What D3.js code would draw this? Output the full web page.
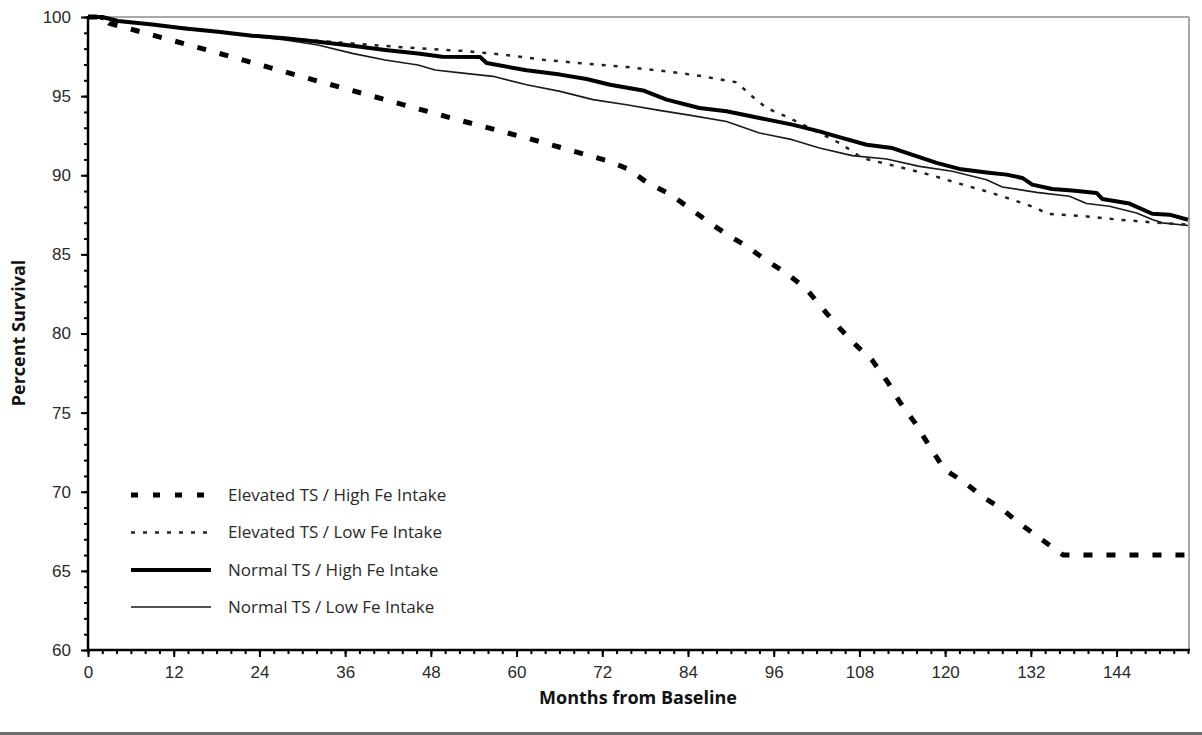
<!DOCTYPE html>
<html>
<head>
<meta charset="utf-8">
<script src="https://cdn.jsdelivr.net/npm/d3@7"></script>
<style>
  body { margin: 0; background: #fff; }
  svg { display: block; font-family: "Open Sans", "DejaVu Sans", sans-serif; }
  .tick text { font-size: 17px; fill: #2a2a2a; }
  .axis path, .axis line { stroke: #000; }
</style>
</head>
<body>
<svg id="chart" width="1202" height="735"></svg>
<script>
// months from baseline / percent survival
const elevHighMonths = [0, 2, 3, 16, 31.8, 51, 63.5, 72.8, 75.6, 78.4, 81.5, 84.1, 86.8, 89.5, 92.3, 95, 97.8, 100.6, 102.8, 104.9, 107.2, 109.8, 112, 113.6, 115.7, 117.5, 119.2, 119.9, 122.7, 125.2, 128, 130.1, 136.5, 154];
const elevHighValues = [100, 100, 99.6, 98.0, 96.0, 93.6, 92.1, 90.9, 90.4, 89.5, 88.8, 87.95, 87.07, 86.25, 85.49, 84.6, 83.8, 82.8, 81.6, 80.5, 79.4, 78.3, 76.9, 75.7, 74.4, 73.1, 71.9, 71.4, 70.6, 69.7, 68.9, 68.1, 66.0, 66.0];

const elevLowMonths = [0, 4.2, 13.6, 23, 32, 37, 41.6, 46.2, 52.8, 58.1, 63.7, 69.8, 75.4, 81, 85.6, 90.8, 93, 95, 98.2, 99.6, 105.2, 108.4, 113.2, 117.8, 122, 125.8, 129.4, 132.8, 134.2, 139.8, 144.4, 149, 154];
const elevLowValues = [100, 99.75, 99.3, 98.85, 98.5, 98.33, 98.17, 98.02, 97.85, 97.62, 97.3, 97.05, 96.84, 96.56, 96.29, 95.87, 94.98, 94.25, 93.62, 93.3, 92.04, 91.09, 90.56, 90.04, 89.47, 88.98, 88.46, 87.93, 87.56, 87.4, 87.19, 87.02, 86.88];

const normHighMonths = [0, 2, 4.2, 9, 13.6, 18.2, 23, 27.6, 32.2, 37, 41.6, 46.2, 49.6, 54.9, 55.8, 61.4, 66.1, 69.8, 73.1, 77.7, 81, 85.6, 89.4, 94, 98.6, 102.4, 104.8, 109, 112.6, 114.6, 118.8, 122, 125.8, 128.6, 130.8, 132.2, 135, 137.8, 141.2, 142, 145.8, 149, 151.4, 154];
const normHighValues = [100, 100, 99.75, 99.53, 99.28, 99.07, 98.82, 98.65, 98.44, 98.18, 97.92, 97.7, 97.49, 97.47, 97.09, 96.63, 96.36, 96.08, 95.72, 95.36, 94.78, 94.25, 94.04, 93.62, 93.2, 92.77, 92.46, 91.93, 91.72, 91.41, 90.78, 90.4, 90.18, 90.04, 89.83, 89.41, 89.13, 89.03, 88.88, 88.5, 88.21, 87.57, 87.51, 87.19];

const normLowMonths = [0, 2, 4.2, 9, 13.6, 18.2, 23, 27.6, 32.2, 37, 41.6, 46.2, 48.6, 52.8, 56.7, 61.4, 66.1, 70.7, 75.4, 80, 84.6, 89.4, 94, 98.6, 102.4, 107, 111.8, 116.4, 121, 125.8, 128, 132.8, 137.4, 139.8, 143, 146.8, 149, 150.4, 154];
const normLowValues = [100, 100, 99.75, 99.53, 99.28, 99.05, 98.78, 98.55, 98.23, 97.7, 97.28, 96.97, 96.65, 96.44, 96.25, 95.72, 95.3, 94.78, 94.46, 94.1, 93.77, 93.4, 92.67, 92.25, 91.72, 91.24, 91.03, 90.56, 90.25, 89.72, 89.26, 88.92, 88.67, 88.21, 88.04, 87.62, 87.2, 86.99, 86.82];

const seriesNames = ["Elevated TS / High Fe Intake", "Elevated TS / Low Fe Intake", "Normal TS / High Fe Intake", "Normal TS / Low Fe Intake"];
const xTickLabels = [0, 12, 24, 36, 48, 60, 72, 84, 96, 108, 120, 132, 144];
const yTickLabels = [60, 65, 70, 75, 80, 85, 90, 95, 100];

const svg = d3.select("#chart");
const plotLeft = 88, plotRight = 1188, plotTop = 17, plotBottom = 650;

const x = d3.scaleLinear().domain([0, 154]).range([plotLeft, plotRight]);
const y = d3.scaleLinear().domain([60, 100]).range([plotBottom, plotTop]);

// grey frame on top and right
svg.append("line").attr("x1", plotLeft).attr("x2", plotRight + 1).attr("y1", plotTop).attr("y2", plotTop)
    .attr("stroke", "#a8a8a8").attr("stroke-width", 2);
svg.append("line").attr("x1", plotRight + 1).attr("x2", plotRight + 1).attr("y1", plotTop).attr("y2", plotBottom)
    .attr("stroke", "#a8a8a8").attr("stroke-width", 2);

// bottom rule of the figure
svg.append("line").attr("x1", 0).attr("x2", 1202).attr("y1", 733.5).attr("y2", 733.5)
    .attr("stroke", "#6e6e6e").attr("stroke-width", 3);

// minor ticks
let xMinor = d3.range(0, 155, 2);
let yMinor = d3.range(60, 101, 1);

svg.append("g").attr("transform", `translate(0,${plotBottom})`)
    .call(d3.axisBottom(x).tickValues(xMinor).tickSize(4).tickFormat(""))
    .call(g => g.select(".domain").remove())
    .selectAll("line").attr("stroke-width", 2);

svg.append("g").attr("transform", `translate(${plotLeft},0)`)
    .call(d3.axisLeft(y).tickValues(yMinor).tickSize(4).tickFormat(""))
    .call(g => g.select(".domain").remove())
    .selectAll("line").attr("stroke-width", 2);

// major ticks + labels
let xAxis = svg.append("g").attr("class", "axis").attr("transform", `translate(0,${plotBottom})`)
    .call(d3.axisBottom(x).tickValues(xTickLabels).tickSize(7).tickPadding(7).tickSizeOuter(0));
xAxis.select(".domain").attr("stroke-width", 2.5).attr("d", `M${plotLeft - 1},0H${plotRight + 2}`);
xAxis.selectAll(".tick line").attr("stroke-width", 2);
xAxis.selectAll(".tick text").attr("dy", "0.8em");

let yAxis = svg.append("g").attr("class", "axis").attr("transform", `translate(${plotLeft},0)`)
    .call(d3.axisLeft(y).tickValues(yTickLabels).tickSize(7).tickPadding(10).tickSizeOuter(0));
yAxis.select(".domain").attr("stroke-width", 2.5).attr("d", `M0,${plotTop - 1}V${plotBottom + 1}`);
yAxis.selectAll(".tick line").attr("stroke-width", 2);

// axis titles
svg.append("text").attr("x", 638).attr("y", 704)
    .attr("text-anchor", "middle").attr("font-size", 18).attr("font-weight", "bold")
    .attr("fill", "#111").text("Months from Baseline");
svg.append("text").attr("transform", `translate(25,333) rotate(-90)`)
    .attr("text-anchor", "middle").attr("font-size", 18).attr("font-weight", "bold")
    .attr("fill", "#111").text("Percent Survival");

// curves
const styles = [
    {width: 5, dash: "9,14", color: "#000"},
    {width: 2.5, dash: "4,8", color: "#222"},
    {width: 4, dash: null, color: "#000"},
    {width: 1.6, dash: null, color: "#1a1a1a"}
];
const series = [
    d3.zip(elevHighMonths, elevHighValues),
    d3.zip(elevLowMonths, elevLowValues),
    d3.zip(normHighMonths, normHighValues),
    d3.zip(normLowMonths, normLowValues)
];

let line = d3.line().x(d => x(d[0])).y(d => y(d[1]));

// draw thin ones first so the thick lines sit on top
[3, 1, 2, 0].forEach(function (i) {
    svg.append("path").datum(series[i])
        .attr("d", line)
        .attr("fill", "none")
        .attr("stroke", styles[i].color)
        .attr("stroke-width", styles[i].width)
        .attr("stroke-dasharray", styles[i].dash)
        .attr("stroke-linejoin", "round");
});

// legend
let legendY = [495, 532.5, 570, 607];
let legend = svg.append("g");
seriesNames.forEach(function (name, i) {
    legend.append("line")
        .attr("x1", 131).attr("x2", 211)
        .attr("y1", legendY[i]).attr("y2", legendY[i])
        .attr("stroke", styles[i].color)
        .attr("stroke-width", styles[i].width)
        .attr("stroke-dasharray", i === 0 ? "7,15" : styles[i].dash);
    legend.append("text")
        .attr("x", 228).attr("y", legendY[i]).attr("dy", "0.35em")
        .attr("font-size", 17).attr("fill", "#2a2a2a")
        .text(name);
});
</script>
</body>
</html>
